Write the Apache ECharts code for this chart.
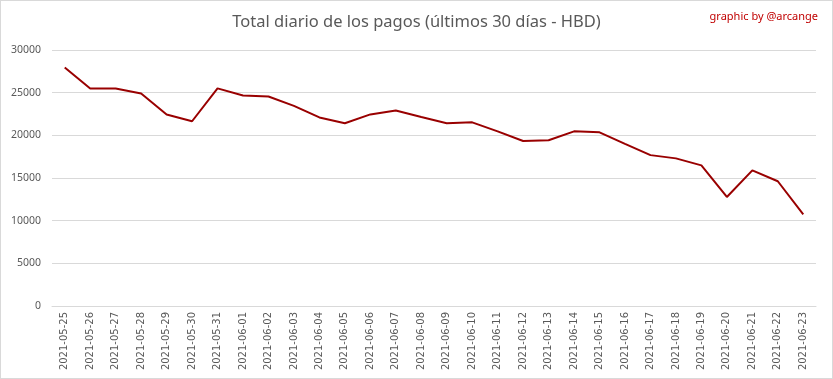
<!DOCTYPE html>
<html><head><meta charset="utf-8">
<script src="https://cdn.jsdelivr.net/npm/echarts@6/dist/echarts.min.js"></script>
<style>html,body{margin:0;padding:0;background:#fff}#c{width:833px;height:379px;box-sizing:border-box;border:1px solid #d9d9d9}</style>
</head><body><div id="c"></div>
<script>
const categories = ["2021-05-25","2021-05-26","2021-05-27","2021-05-28","2021-05-29","2021-05-30","2021-05-31","2021-06-01","2021-06-02","2021-06-03","2021-06-04","2021-06-05","2021-06-06","2021-06-07","2021-06-08","2021-06-09","2021-06-10","2021-06-11","2021-06-12","2021-06-13","2021-06-14","2021-06-15","2021-06-16","2021-06-17","2021-06-18","2021-06-19","2021-06-20","2021-06-21","2021-06-22","2021-06-23"];
const values = [27950,25500,25500,24900,22450,21650,25500,24670,24550,23450,22100,21420,22450,22920,22150,21420,21520,20470,19330,19420,20470,20350,19000,17680,17300,16480,12780,15900,14620,10750];
const titleText = "Total diario de los pagos (últimos 30 días - HBD)";
const creditText = "graphic by @arcange";
const chart = echarts.init(document.getElementById('c'), null, {renderer:'canvas'});
chart.setOption({
  animation:false,
  title:[{text:titleText,left:'center',top:8,textStyle:{fontFamily:'Noto Sans',fontSize:16.5,fontWeight:'normal',color:'#595959'}},
         {text:creditText,right:9,top:5,textStyle:{fontFamily:'Noto Sans',fontSize:11,fontWeight:'normal',color:'#c00000'}}],
  grid:{left:51,right:16,top:49,bottom:72,containLabel:false},
  xAxis:{type:'category',data:categories,boundaryGap:true,
    axisLine:{lineStyle:{color:'#d9d9d9'}},axisTick:{show:false},
    axisLabel:{rotate:90,interval:0,fontFamily:'DejaVu Sans',fontSize:10,color:'#595959',margin:6}},
  yAxis:{type:'value',min:0,max:30000,interval:5000,
    axisLine:{show:false},axisTick:{show:false},
    splitLine:{lineStyle:{color:'#d9d9d9'}},
    axisLabel:{fontFamily:'Noto Sans',fontSize:10.5,color:'#595959',margin:11,formatter:v=>String(v)}},
  series:[{type:'line',data:values,symbol:'none',lineStyle:{color:'#990000',width:2},itemStyle:{color:'#990000'}}]
});
</script></body></html>
